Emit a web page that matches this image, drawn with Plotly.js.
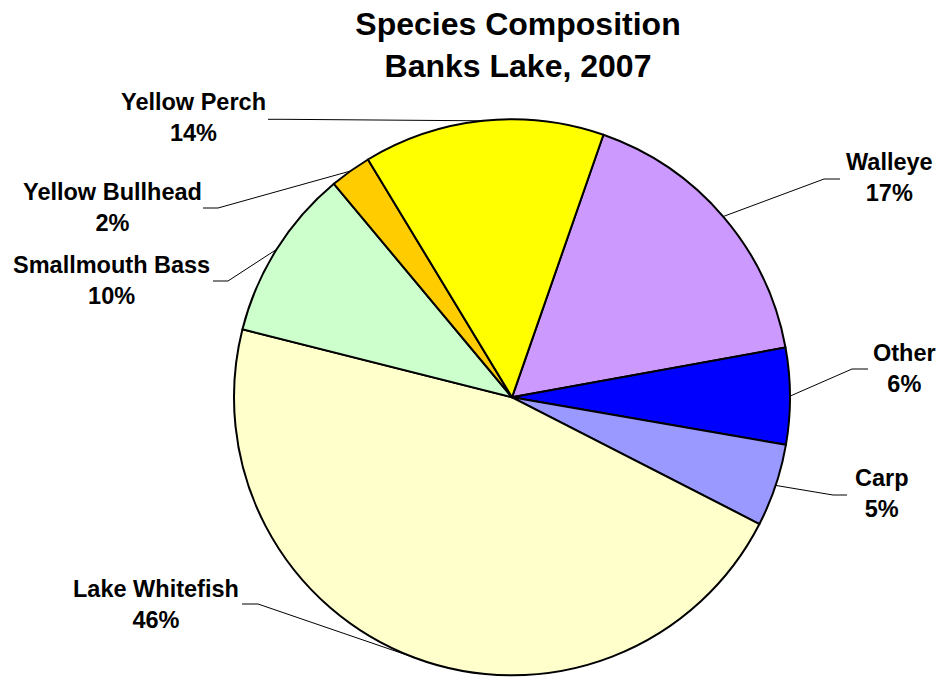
<!DOCTYPE html>
<html>
<head>
<meta charset="utf-8">
<script src="https://cdn.plot.ly/plotly-3.0.1.min.js"></script>
<style>html,body{margin:0;padding:0;background:#fff;}#chart{width:937px;height:677px;}</style>
</head>
<body>
<div id="chart"></div>
<script>
// ---- data ----
const species = ["Walleye", "Other", "Carp", "Lake Whitefish", "Smallmouth Bass", "Yellow Bullhead", "Yellow Perch"];
const shares = [16.8, 5.6, 4.8, 46.4, 10.0, 2.4, 14.0];
const sliceColors = ["#CC99FF", "#0000FF", "#9999FF", "#FFFFCC", "#CCFFCC", "#FFCC00", "#FFFF00"];
const chartTitle = "Species Composition<br>Banks Lake, 2007";

// ---- layout (pixels) ----
const W = 937, H = 677;
const pieCx = 512, pieCy = 397.3, pieR = 278;
const startAngle = 19.2;
const labelX = [889, 904, 882, 156, 111, 112, 193];
const labelY = [178, 368.5, 493, 604, 280, 208, 118];
const lineStartX = [840, 868, 847, 242, 213, 203, 268];
const lineKneeX = [824, 852, 833, 258, 228, 218, 283];
const lineY = [179, 369, 495, 604, 281, 208, 119.3];

const px = x => x / W;
const py = y => 1 - y / H;

const total = shares.reduce((a, b) => a + b, 0);
const annotations = [];
const shapes = [];
let cum = 0;
shares.forEach((v, i) => {
  const mid = (startAngle + (cum + v / 2) / total * 360) * Math.PI / 180;
  cum += v;
  const ex = pieCx + pieR * Math.sin(mid);
  const ey = pieCy - pieR * Math.cos(mid);
  annotations.push({
    x: px(labelX[i]), y: py(labelY[i]), xref: "paper", yref: "paper",
    xanchor: "center", yanchor: "middle", align: "center", showarrow: false,
    text: species[i] + "<br>" + Math.round(v / total * 100) + "%",
    font: {family: "Liberation Sans, Arial, sans-serif", size: 23.5, color: "#000", weight: "bold"}
  });
  shapes.push({
    type: "path", xref: "paper", yref: "paper",
    path: `M ${px(lineStartX[i])} ${py(lineY[i])} L ${px(lineKneeX[i])} ${py(lineY[i])} L ${px(ex)} ${py(ey)}`,
    line: {color: "#000", width: 1}
  });
});

const trace = {
  type: "pie",
  labels: species,
  values: shares,
  sort: false,
  direction: "clockwise",
  rotation: startAngle,
  textinfo: "none",
  hoverinfo: "label+percent",
  showlegend: false,
  marker: {colors: sliceColors, line: {color: "#000", width: 2}},
  domain: {x: [px(pieCx - pieR), px(pieCx + pieR)], y: [py(pieCy + pieR), py(pieCy - pieR)]}
};

const layout = {
  width: W, height: H,
  margin: {l: 0, r: 0, t: 0, b: 0},
  paper_bgcolor: "#fff",
  title: {
    text: chartTitle,
    font: {family: "Liberation Sans, Arial, sans-serif", size: 32, color: "#000", weight: "bold"},
    x: 518 / W, xanchor: "center", xref: "paper",
    y: 1 - 35 / H, yanchor: "top", yref: "container"
  },
  annotations: annotations,
  shapes: shapes
};

Plotly.newPlot("chart", [trace], layout, {staticPlot: true});
</script>
</body>
</html>
